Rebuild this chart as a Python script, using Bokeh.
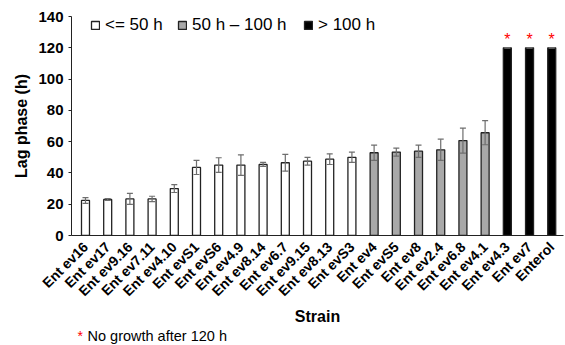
from bokeh.plotting import figure
from bokeh.models import (ColumnDataSource, Range1d, FixedTicker, Legend, LegendItem,
                          Whisker, TeeHead)
from bokeh.layouts import column
from bokeh.core.properties import value
from bokeh.embed import file_html
from bokeh.resources import INLINE
import math

strains = ["Ent ev16", "Ent ev17", "Ent ev9.16", "Ent ev7.11", "Ent ev4.10", "Ent evS1",
           "Ent evS6", "Ent ev4.9", "Ent ev8.14", "Ent ev6.7", "Ent ev9.15", "Ent ev8.13",
           "Ent evS3", "Ent ev4", "Ent evS5", "Ent ev8", "Ent ev2.4", "Ent ev6.8",
           "Ent ev4.1", "Ent ev4.3", "Ent ev7", "Enterol"]
lag = [22.4, 23.0, 23.4, 23.4, 30.0, 43.5, 45.0, 45.0, 45.4, 46.5, 47.5, 48.8,
       50.0, 52.9, 53.3, 53.9, 54.8, 60.7, 65.7, 120, 120, 120]
err = [1.8, 0.6, 3.5, 1.7, 2.5, 4.5, 4.7, 6.6, 1.3, 5.3, 2.5, 3.4,
       3.3, 4.9, 2.6, 3.9, 6.8, 8.0, 7.7, 0, 0, 0]
groups = ["<= 50 h"] * 13 + ["50 h \u2013 100 h"] * 6 + ["> 100 h"] * 3
group_names = ["<= 50 h", "50 h \u2013 100 h", "> 100 h"]
group_colors = ["#ffffff", "#a8a8a8", "#000000"]
legend_swatch = ["#ffffff", "#a8a8a8", "#111111"]
no_growth = ["Ent ev4.3", "Ent ev7", "Enterol"]
y_ticks = [0, 20, 40, 60, 80, 100, 120, 140]
footnote = "No growth after 120 h"

FONT = "Liberation Sans"
legend_offsets = [19, 106, 232]   # legend item positions (px from frame left)

xs = list(range(len(strains)))
p = figure(width=565, height=327, output_backend="svg", toolbar_location=None,
           x_range=Range1d(-0.63, 21.53), y_range=Range1d(0, 140),
           min_border_left=71, min_border_right=2, min_border_top=16, min_border_bottom=92)
p.outline_line_color = None
p.xgrid.visible = False
p.ygrid.visible = False

for g, c, off in zip(group_names, group_colors, legend_offsets):
    idx = [i for i in xs if groups[i] == g]
    src = ColumnDataSource(dict(x=idx, top=[lag[i] for i in idx]))
    r = p.vbar(x="x", top="top", width=0.36, source=src, fill_color=c,
               line_color="#222222", line_width=1.3)
    lg = Legend(items=[LegendItem(label=g, renderers=[r])], location=(off, 200),
                padding=0, margin=0, label_standoff=5,
                glyph_width=10, glyph_height=10, label_height=14,
                border_line_color=None, background_fill_alpha=0,
                label_text_font=FONT, label_text_font_size="17px",
                label_text_color="black")
    p.add_layout(lg)

esrc = ColumnDataSource(dict(x=xs, lo=[l - e for l, e in zip(lag, err)],
                             hi=[l + e for l, e in zip(lag, err)]))
w = Whisker(base="x", lower="lo", upper="hi", source=esrc, level="overlay",
            line_color="#6e6e6e", line_width=1.2,
            upper_head=TeeHead(size=6, line_color="#6e6e6e", line_width=1.2),
            lower_head=TeeHead(size=6, line_color="#6e6e6e", line_width=1.2))
p.add_layout(w)

# red asterisks
ast_x = [strains.index(s) for s in no_growth]
ast_y = [lag[i] for i in ast_x]
p.text(x=ast_x, y=[v + 5 for v in ast_y], text=["*"] * len(ast_x), text_color="red",
       text_align="center", text_baseline="middle", text_font=value(FONT),
       text_font_size="16px")

# axes
p.yaxis.ticker = FixedTicker(ticks=y_ticks)
p.yaxis.axis_label = "Lag phase (h)"
p.yaxis.axis_label_text_font = FONT
p.yaxis.axis_label_text_font_size = "16px"
p.yaxis.axis_label_text_font_style = "bold"
p.yaxis.axis_label_text_color = "black"
p.yaxis.axis_label_standoff = 5
p.yaxis.major_label_text_font = FONT
p.yaxis.major_label_text_font_size = "15px"
p.yaxis.major_label_text_font_style = "bold"
p.yaxis.major_label_text_color = "black"
p.yaxis.major_tick_in = 0
p.yaxis.major_tick_out = 3
p.yaxis.minor_tick_out = 0
p.yaxis.minor_tick_in = 0
p.yaxis.major_label_standoff = 5
p.yaxis.axis_line_color = "#222222"
p.yaxis.major_tick_line_color = "#222222"

p.xaxis.ticker = FixedTicker(ticks=xs)
p.xaxis.major_label_overrides = {i: s for i, s in enumerate(strains)}
p.xaxis.major_label_orientation = math.pi / 4
p.xaxis.major_label_text_font = FONT
p.xaxis.major_label_text_font_size = "14px"
p.xaxis.major_label_text_font_style = "bold"
p.xaxis.major_label_text_color = "black"
p.xaxis.major_tick_in = 0
p.xaxis.major_tick_out = 0
p.xaxis.minor_tick_out = 0
p.xaxis.minor_tick_in = 0
p.xaxis.major_label_standoff = 9
p.xaxis.axis_label = "Strain"
p.xaxis.axis_label_text_font = FONT
p.xaxis.axis_label_text_font_size = "16px"
p.xaxis.axis_label_text_font_style = "bold"
p.xaxis.axis_label_text_color = "black"
p.xaxis.axis_label_standoff = 0
p.xaxis.axis_line_color = "#222222"

# footnote strip (its x range is in page pixels, frame aligned with the chart's)
f = figure(width=565, height=18, output_backend="svg", toolbar_location=None,
           x_range=Range1d(71, 563), y_range=Range1d(0, 18),
           min_border_left=71, min_border_right=2, min_border_top=0, min_border_bottom=0,
           x_axis_type=None, y_axis_type=None)
f.outline_line_color = None
f.xgrid.visible = False
f.ygrid.visible = False
f.text(x=[77], y=[10], text=["*"], text_color="red", text_font=value(FONT),
       text_font_size="14px", text_baseline="middle")
f.text(x=[87], y=[10], text=[footnote], text_color="black", text_font=value(FONT),
       text_font_size="14.5px", text_baseline="middle")

layout = column(p, f, spacing=0)
open("out.html", "w").write(file_html(layout, INLINE))
